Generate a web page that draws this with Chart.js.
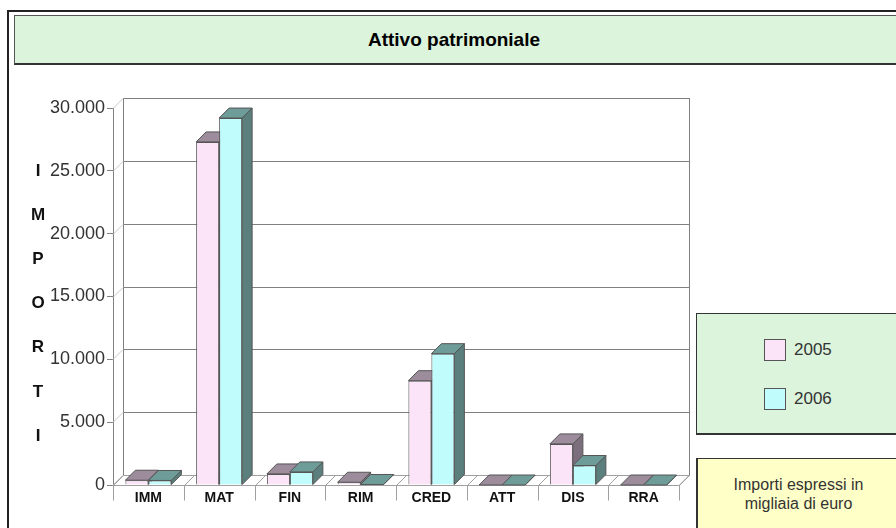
<!DOCTYPE html>
<html>
<head>
<meta charset="utf-8">
<script src="https://cdn.jsdelivr.net/npm/chart.js"></script>
<style>
    body { margin: 0; background: #fff; }
    #wrap { position: relative; width: 896px; height: 528px; overflow: hidden; background: #fff; font-family: Arial, "Liberation Sans", sans-serif; }
    #frame { position: absolute; left: 7px; top: 10px; width: 900px; height: 530px; border: 2px solid #222; box-sizing: border-box; }
    #chart { position: absolute; left: 0; top: 0; }
    #title { position: absolute; left: 14px; top: 15px; width: 900px; height: 50px; box-sizing: border-box; background: #dcf3dc; border: 1px solid #555; border-bottom: 2px solid #333; }
    #title span { position: absolute; left: 0; width: 878px; top: 13px; text-align: center; font-weight: bold; font-size: 19px; color: #000; }
    #legend { position: absolute; left: 696px; top: 313px; width: 220px; height: 122px; box-sizing: border-box; background: #dcf3dc; border: 1px solid #333; border-bottom: 2px solid #333; }
    .item { position: absolute; left: 67px; height: 22px; font-size: 17px; color: #333; line-height: 22px; }
    .item i { display: inline-block; width: 20px; height: 20px; border: 1px solid #555; vertical-align: top; margin-right: 8px; }
    #note { position: absolute; left: 696px; top: 458px; width: 204px; height: 80px; box-sizing: border-box; background: #ffffc8; border: 1px solid #333; border-left: 2px solid #333; text-align: center; font-size: 16px; color: #333; line-height: 19px; padding-top: 16px; }
</style>
</head>
<body>
<div id="wrap">
    <div id="frame"></div>
    <canvas id="chart" width="896" height="528"></canvas>
    <div id="title"><span>Attivo patrimoniale</span></div>
    <div id="legend"></div>
    <div id="note">Importi espressi in<br>migliaia di euro</div>
</div>
<script>
var categories = ["IMM", "MAT", "FIN", "RIM", "CRED", "ATT", "DIS", "RRA"]
var years = ["2005", "2006"]
var values2005 = [380, 27300, 880, 220, 8300, 0, 3270, 0]
var values2006 = [360, 29200, 1040, 40, 10450, 0, 1550, 0]
var yTicks = [0, 5000, 10000, 15000, 20000, 25000, 30000]
var axisLetters = ["I", "M", "P", "O", "R", "T", "I"]

// colori: fronte, sopra, lato
var faces = [
    { front: "#fce4f8", top: "#9c8c9c", side: "#7d6e7d" },
    { front: "#c0fcfc", top: "#6e9c98", side: "#5a7f7c" }
]
var depth = 10
var edge = "#555"

function fmt(v){
    return String(v).replace(/\B(?=(\d{3})+(?!\d))/g, ".")
}

function poly(ctx, pts, fill){
    ctx.beginPath()
    ctx.moveTo(pts[0][0], pts[0][1])
    for (var k = 1; k < pts.length; k++) ctx.lineTo(pts[k][0], pts[k][1])
    ctx.closePath()
    if (fill){
        ctx.fillStyle = fill
        ctx.fill()
    }
    ctx.stroke()
}

// pareti, pavimento e facce 3D delle colonne
var box3d = {
    id: "box3d",
    beforeDatasetsDraw: function(chart){
        var ctx = chart.ctx
        var a = chart.chartArea
        var y = chart.scales.y
        ctx.save()
        ctx.lineWidth = 1

        // parete di fondo
        ctx.strokeStyle = "#808080"
        ctx.fillStyle = "#fff"
        ctx.fillRect(a.left + depth, a.top - depth, a.right - a.left, a.bottom - a.top)
        ctx.strokeRect(a.left + depth + 0.5, a.top - depth + 0.5, a.right - a.left, a.bottom - a.top)

        yTicks.forEach(function(v){
            var py = Math.round(y.getPixelForValue(v)) + 0.5
            ctx.strokeStyle = "#808080"
            ctx.beginPath()
            ctx.moveTo(a.left + depth, py - depth)
            ctx.lineTo(a.right + depth, py - depth)
            ctx.stroke()
            ctx.strokeStyle = "#c8c8c8"
            ctx.beginPath()
            ctx.moveTo(a.left, py)
            ctx.lineTo(a.left + depth, py - depth)
            ctx.stroke()
        })

        // pavimento
        ctx.strokeStyle = "#a0a0a0"
        var b = a.bottom + 0.5
        poly(ctx, [[a.left, b], [a.right, b], [a.right + depth, b - depth], [a.left + depth, b - depth]], "#fff")
        var step = (a.right - a.left) / categories.length
        for (var c = 0; c <= categories.length; c++){
            var cx = Math.round(a.left + c * step) + 0.5
            ctx.beginPath()
            ctx.moveTo(cx, b)
            ctx.lineTo(cx + depth, b - depth)
            ctx.stroke()
            ctx.beginPath()
            ctx.moveTo(cx, b)
            ctx.lineTo(cx, b + 15)
            ctx.stroke()
        }

        // lato e sopra delle colonne
        ctx.strokeStyle = edge
        for (var i = 0; i < categories.length; i++){
            for (var d = 0; d < chart.data.datasets.length; d++){
                var bar = chart.getDatasetMeta(d).data[i].getProps(["x", "y", "base", "width"], true)
                var l = bar.x - bar.width / 2
                var r = bar.x + bar.width / 2
                var t = bar.y
                poly(ctx, [[r, t], [r + depth, t - depth], [r + depth, bar.base - depth], [r, bar.base]], faces[d].side)
                poly(ctx, [[l, t], [r, t], [r + depth, t - depth], [l + depth, t - depth]], faces[d].top)
            }
        }
        ctx.restore()
    },
    afterDraw: function(chart){
        var ctx = chart.ctx
        ctx.save()
        ctx.fillStyle = "#111"
        ctx.font = "bold 17px Arial, 'Liberation Sans', sans-serif"
        ctx.textAlign = "center"
        ctx.textBaseline = "middle"
        axisLetters.forEach(function(ch, k){
            ctx.fillText(ch, 38, 171 + k * 44.2)
        })
        ctx.restore()
    }
}

var ctx = document.getElementById("chart")

var chart = new Chart(ctx, {
    type: "bar",
    data: {
        labels: categories,
        datasets: [
            {
                label: years[0],
                data: values2005,
                backgroundColor: faces[0].front,
                borderColor: edge,
                borderWidth: 1
            },
            {
                label: years[1],
                data: values2006,
                backgroundColor: faces[1].front,
                borderColor: edge,
                borderWidth: 1
            }
        ]
    },
    options: {
        responsive: false,
        animation: false,
        categoryPercentage: 0.65,
        barPercentage: 1.0,
        layout: { padding: { top: 108, right: 217, left: 0, bottom: 0 } },
        plugins: {
            legend: { display: false },
            title: { display: false },
            tooltip: { enabled: false }
        },
        scales: {
            x: {
                afterFit: function(s){ s.height = 43 },
                grid: { display: false, drawTicks: false },
                border: { display: true, color: "#808080" },
                ticks: {
                    autoSkip: false,
                    maxRotation: 0,
                    padding: 5,
                    color: "#111",
                    font: { family: "Arial, 'Liberation Sans', sans-serif", size: 14, weight: "bold" }
                }
            },
            y: {
                min: 0,
                max: 30000,
                afterFit: function(s){ s.width = 113 },
                grid: { drawOnChartArea: false, tickLength: 6, color: "#808080" },
                border: { display: true, color: "#808080" },
                ticks: {
                    stepSize: 5000,
                    padding: 2,
                    color: "#333",
                    font: { family: "Arial, 'Liberation Sans', sans-serif", size: 18 },
                    callback: function(v){ return fmt(v) }
                }
            }
        }
    },
    plugins: [box3d]
})

// legenda
var legend = document.getElementById("legend")
chart.data.datasets.forEach(function(ds, k){
    var it = document.createElement("div")
    it.className = "item"
    it.style.top = (25 + k * 49) + "px"
    it.innerHTML = '<i style="background:' + ds.backgroundColor + '"></i>' + ds.label
    legend.appendChild(it)
})
</script>
</body>
</html>
